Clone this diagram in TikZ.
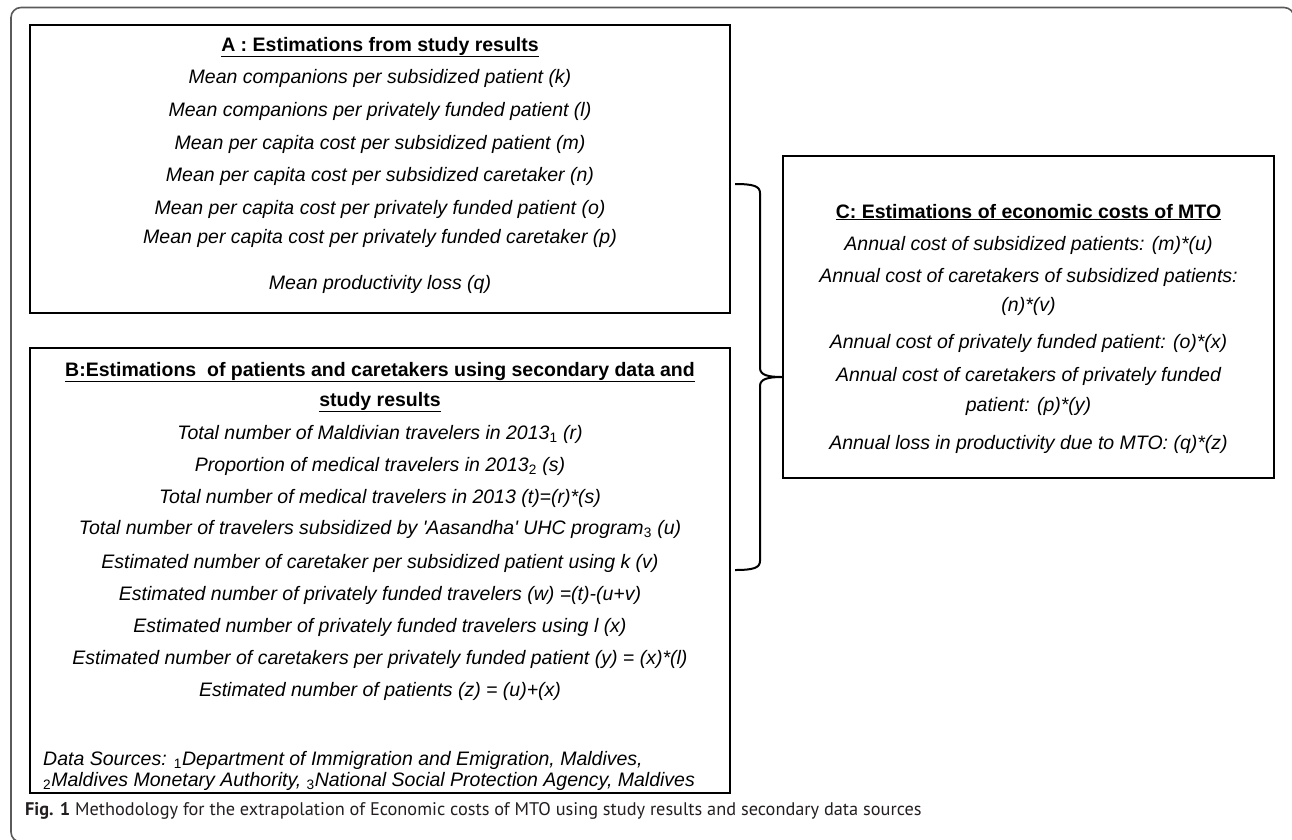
\documentclass[tikz,border=0pt]{standalone}
\usepackage{fontspec}
\setmainfont{Liberation Sans}
\newfontfamily\capfont{PT Sans}
\definecolor{framegray}{HTML}{5A5A5A}
\definecolor{capgray}{HTML}{231F20}
\newcommand{\srcmark}[1]{\textsubscript{\upshape #1}}

\begin{document}
\begin{tikzpicture}[x=1pt, y=-1pt,
    box/.style={draw, line width=2.2pt, inner sep=0pt},
    txt/.style={anchor=base, inner sep=0pt, font=\fontsize{19.5}{23}\selectfont\itshape},
    head/.style={anchor=base, inner sep=0pt, font=\fontsize{19.5}{23}\selectfont\bfseries},
    src/.style={anchor=base west, inner sep=0pt, font=\fontsize{19.5}{23}\selectfont\itshape}]
  \useasboundingbox (0,0) rectangle (1292,839);

  % outer frame, open on the right and at the bottom
  \draw[framegray, line width=1.6pt, rounded corners=10pt] (1294,30) -- (1294,7.5) -- (11,7.5) -- (11,842) -- (30,842);

  % box A
  \node[box, minimum width=700pt, minimum height=288pt] (boxA) at (380,169) {};
  \node[head] (aHead) at (380,51) {\underline{A : Estimations from study results}};
  \node[txt] (aK) at (380,83) {Mean companions per subsidized patient (k)};
  \node[txt] (aL) at (380,116) {Mean companions per privately funded patient (l)};
  \node[txt] (aM) at (380,149) {Mean per capita cost per subsidized patient (m)};
  \node[txt] (aN) at (380,181) {Mean per capita cost per subsidized caretaker (n)};
  \node[txt] (aO) at (380,214) {Mean per capita cost per privately funded patient (o)};
  \node[txt] (aP) at (380,243) {Mean per capita cost per privately funded caretaker (p)};
  \node[txt] (aQ) at (380,289) {Mean productivity loss (q)};

  % box B
  \node[box, minimum width=700pt, minimum height=445pt] (boxB) at (380,570.5) {};
  \node[head] (bHead1) at (380,376) {\underline{B:Estimations\ \ of patients and caretakers using secondary data and}};
  \node[head] (bHead2) at (380,406) {\underline{study results}};
  \node[txt] (bR) at (380,439) {Total number of Maldivian travelers in 2013\srcmark{1} (r)};
  \node[txt] (bS) at (380,471) {Proportion of medical travelers in 2013\srcmark{2} (s)};
  \node[txt] (bT) at (380,503) {Total number of medical travelers in 2013 (t)=(r)*(s)};
  \node[txt] (bU) at (380,534) {Total number of travelers subsidized by \textquotesingle Aasandha\textquotesingle\ UHC program\srcmark{3} (u)};
  \node[txt] (bV) at (380,568) {Estimated number of caretaker per subsidized patient using k (v)};
  \node[txt] (bW) at (380,600) {Estimated number of privately funded travelers (w) =(t)-(u+v)};
  \node[txt] (bX) at (380,632) {Estimated number of privately funded travelers using l (x)};
  \node[txt] (bY) at (380,664) {Estimated number of caretakers per privately funded patient (y) = (x)*(l)};
  \node[txt] (bZ) at (380,696) {Estimated number of patients (z) = (u)+(x)};
  \node[src] (bSrc1) at (43,765) {Data Sources: \srcmark{1}Department of Immigration and Emigration, Maldives,};
  \node[src] (bSrc2) at (43,786) {\srcmark{2}Maldives Monetary Authority, \srcmark{3}National Social Protection Agency, Maldives};

  % box C
  \node[box, minimum width=491pt, minimum height=322pt] (boxC) at (1028.5,317) {};
  \node[head] (cHead) at (1028.5,218) {\underline{C: Estimations of economic costs of MTO}};
  \node[txt] (cM) at (1028.5,250) {Annual cost of subsidized patients: (m)*(u)};
  \node[txt] (cN1) at (1028.5,282) {Annual cost of caretakers of subsidized patients:};
  \node[txt] (cN2) at (1028.5,311) {(n)*(v)};
  \node[txt] (cO) at (1028.5,348) {Annual cost of privately funded patient: (o)*(x)};
  \node[txt] (cP1) at (1028.5,381) {Annual cost of caretakers of privately funded};
  \node[txt] (cP2) at (1028.5,411) {patient: (p)*(y)};
  \node[txt] (cQ) at (1028.5,449) {Annual loss in productivity due to MTO: (q)*(z)};

  % brace joining A and B to C
  \coordinate (braceTop) at (735,184);
  \coordinate (braceBot) at (735,570);
  \coordinate (braceTip) at (boxC.west |- 0,377);
  \draw[line width=2pt] (braceTop) .. controls +(18,0) and +(0,-7) .. (760,193) -- (760,368)
    .. controls +(0,7) and +(-14,0) .. (braceTip)
    .. controls +(-14,0) and +(0,-7) .. (760,386) -- (760,561)
    .. controls +(0,7) and +(18,0) .. (braceBot);

  % caption
  \node[anchor=base west, inner sep=0pt, font=\capfont\fontsize{18.3}{22}\selectfont, text=capgray] (caption) at (25,815)
    {\textbf{Fig. 1} Methodology for the extrapolation of Economic costs of MTO using study results and secondary data sources};
\end{tikzpicture}
\end{document}
